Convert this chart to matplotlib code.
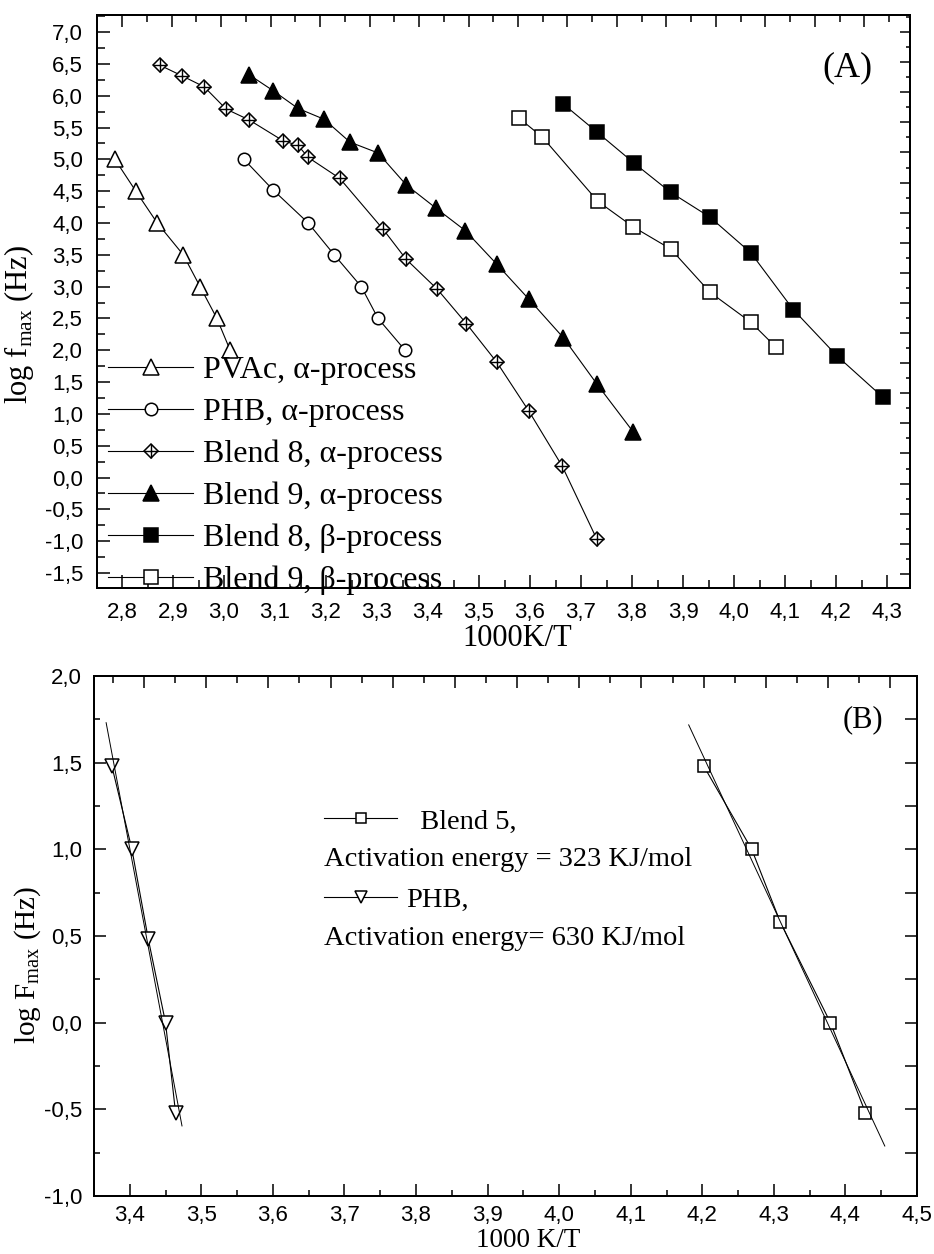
import numpy as np
import matplotlib
matplotlib.use('Agg')
import matplotlib.pyplot as plt
from matplotlib.ticker import MultipleLocator, FuncFormatter

# panel A: log f_max vs 1000/T
pvac_x = [2.786, 2.827, 2.869, 2.920, 2.953, 2.986, 3.012]
pvac_y = [5.0, 4.5, 4.0, 3.5, 3.0, 2.5, 2.0]
phb_x = [3.039, 3.096, 3.165, 3.216, 3.269, 3.302, 3.355]
phb_y = [5.0, 4.52, 4.0, 3.5, 3.0, 2.5, 2.0]
b8a_x = [2.874, 2.918, 2.961, 3.004, 3.049, 3.116, 3.145, 3.165, 3.227,
         3.312, 3.357, 3.418, 3.475, 3.535, 3.598, 3.663, 3.731]
b8a_y = [6.48, 6.31, 6.14, 5.79, 5.62, 5.29, 5.22, 5.03, 4.70,
         3.90, 3.43, 2.96, 2.42, 1.81, 1.04, 0.18, -0.97]
b9a_x = [3.049, 3.096, 3.145, 3.196, 3.247, 3.302, 3.357, 3.416, 3.473,
         3.535, 3.598, 3.665, 3.731, 3.802]
b9a_y = [6.33, 6.08, 5.80, 5.63, 5.27, 5.10, 4.60, 4.23, 3.88,
         3.35, 2.80, 2.20, 1.47, 0.72]
b8b_x = [3.665, 3.731, 3.804, 3.876, 3.953, 4.033, 4.116, 4.202, 4.292]
b8b_y = [5.87, 5.43, 4.94, 4.48, 4.09, 3.53, 2.64, 1.91, 1.26]
b9b_x = [3.578, 3.624, 3.733, 3.802, 3.876, 3.953, 4.033, 4.082]
b9b_y = [5.65, 5.35, 4.34, 3.94, 3.59, 2.91, 2.44, 2.05]
labels_a = ['PVAc, α-process', 'PHB, α-process', 'Blend 8, α-process',
            'Blend 9, α-process', 'Blend 8, β-process', 'Blend 9, β-process']

# panel B: arrhenius fits
b5_x = [4.202, 4.269, 4.309, 4.379, 4.428]
b5_y = [1.48, 1.0, 0.58, 0.0, -0.52]
phb2_x = [3.375, 3.403, 3.426, 3.450, 3.464]
phb2_y = [1.48, 1.0, 0.48, 0.0, -0.52]
b5_fit_range = [4.181, 4.455]
phb_fit_range = [3.367, 3.473]
labels_b = ['  Blend 5,', 'PHB,']
energy_text = ['Activation energy = 323 KJ/mol', 'Activation energy= 630 KJ/mol']

plt.rcParams['font.family'] = 'Liberation Sans'
plt.rcParams['mathtext.fontset'] = 'custom'
plt.rcParams['mathtext.rm'] = 'Liberation Serif'
SERIF = 'Liberation Serif'


def comma(v, pos):
    if abs(v) < 1e-9:
        v = 0.0
    return ('%.1f' % v).replace('.', ',')


def style_ticks(ax, major, minor, pad):
    ax.tick_params(which='both', direction='in', width=1.1, labelsize=16, pad=pad)
    ax.tick_params(which='major', length=major)
    ax.tick_params(which='minor', length=minor)
    for s in ax.spines.values():
        s.set_linewidth(1.4)


fig = plt.figure(figsize=(9.34, 12.54), dpi=100)

# ---- top panel ----
ax1 = fig.add_axes([0.1039, 0.5311, 0.8704, 0.4569])
kw = dict(color='black', lw=0.8, mew=1.1, mec='black')
h1, = ax1.plot(pvac_x, pvac_y, marker='^', ms=11, mfc='white', **kw)
h2, = ax1.plot(phb_x, phb_y, marker='o', ms=9, mfc='white', **kw)
h3d, = ax1.plot(b8a_x, b8a_y, marker='D', ms=7.6, mfc='white', **kw)
h3p, = ax1.plot(b8a_x, b8a_y, ls='none', marker='+', ms=10.5, mew=1.0, color='black')
h4, = ax1.plot(b9a_x, b9a_y, marker='^', ms=12, mfc='black', **kw)
h5, = ax1.plot(b8b_x, b8b_y, marker='s', ms=9.5, mfc='black', **kw)
h6, = ax1.plot(b9b_x, b9b_y, marker='s', ms=9.5, mfc='white', **kw)

ax1.set_xlim(2.751, 4.345)
ax1.set_ylim(-1.736, 7.267)
ax1.xaxis.set_major_locator(MultipleLocator(0.1))
ax1.xaxis.set_minor_locator(MultipleLocator(0.05))
ax1.yaxis.set_major_locator(MultipleLocator(0.5))
ax1.yaxis.set_minor_locator(MultipleLocator(0.25))
ax1.xaxis.set_major_formatter(FuncFormatter(comma))
ax1.yaxis.set_major_formatter(FuncFormatter(comma))
style_ticks(ax1, 9.4, 5.8, 10)

top1 = ax1.twiny()
top1.set_xlim(-0.505, 15.92)
top1.xaxis.set_major_locator(MultipleLocator(1))
top1.xaxis.set_minor_locator(MultipleLocator(0.5))
top1.tick_params(labeltop=False)
style_ticks(top1, 8.6, 5, 5)
right1 = ax1.twinx()
right1.set_ylim(-18.47, 0.565)
right1.yaxis.set_major_locator(MultipleLocator(1))
right1.yaxis.set_minor_locator(MultipleLocator(0.5))
right1.tick_params(labelright=False)
style_ticks(right1, 7.2, 3, 5)

leg = ax1.legend([h1, h2, (h3d, h3p), h4, h5, h6], labels_a, loc='upper left',
                 bbox_to_anchor=(0.0135, 0.405), frameon=False,
                 prop={'family': SERIF, 'size': 23}, handlelength=2.66,
                 handletextpad=0.3, labelspacing=0.39, borderpad=0, borderaxespad=0)
leg.set_zorder(5)

ax1.set_xlabel('1000K/T', fontfamily=SERIF, fontsize=22)
ax1.xaxis.set_label_coords(0.517, -0.063)
ax1.set_ylabel('log f$_{\\mathrm{max}}$ (Hz)', fontfamily=SERIF, fontsize=22)
ax1.yaxis.set_label_coords(-0.075, 0.459)
ax1.text(0.9225, 0.9075, '(A)', transform=ax1.transAxes, ha='center', va='center',
         fontfamily=SERIF, fontsize=26)

# ---- bottom panel ----
ax2 = fig.add_axes([0.1006, 0.0463, 0.8812, 0.4147])
g1, = ax2.plot(b5_x, b5_y, marker='s', ms=8.6, mfc='white', **kw)
g2, = ax2.plot(phb2_x, phb2_y, marker='v', ms=10, mfc='white', **kw)
for xs, ys, rng in [(b5_x, b5_y, b5_fit_range), (phb2_x, phb2_y, phb_fit_range)]:
    p = np.polyfit(xs, ys, 1)
    xr = np.array(rng)
    ax2.plot(xr, np.polyval(p, xr), color='black', lw=0.7)

ax2.set_xlim(3.35, 4.5)
ax2.set_ylim(-1, 2)
ax2.xaxis.set_major_locator(MultipleLocator(0.1))
ax2.xaxis.set_minor_locator(MultipleLocator(0.05))
ax2.yaxis.set_major_locator(MultipleLocator(0.5))
ax2.yaxis.set_minor_locator(MultipleLocator(0.25))
ax2.xaxis.set_major_formatter(FuncFormatter(comma))
ax2.yaxis.set_major_formatter(FuncFormatter(comma))
style_ticks(ax2, 8.6, 4.5, 8.5)
ax2.tick_params(axis='x', pad=6.5)

top2 = ax2.twiny()
top2.set_xlim(-0.804, 12.43)
top2.xaxis.set_major_locator(MultipleLocator(1))
top2.xaxis.set_minor_locator(MultipleLocator(0.5))
top2.tick_params(labeltop=False)
style_ticks(top2, 8.6, 5, 5)
right2 = ax2.twinx()
right2.set_ylim(-1, 2)
right2.yaxis.set_major_locator(MultipleLocator(0.25))
right2.yaxis.set_minor_locator(MultipleLocator(0.25))
right2.tick_params(labelright=False)
style_ticks(right2, 8.6, 8.6, 5)

ax2.legend([g1, g2], labels_b, loc='upper left', bbox_to_anchor=(0.2795, 0.745),
           frameon=False, prop={'family': SERIF, 'size': 20.5}, handlelength=2.57,
           handletextpad=0.32, labelspacing=1.85, borderpad=0, borderaxespad=0,
           markerscale=0.85)
for t, y in zip(energy_text, [0.647, 0.495]):
    ax2.text(0.2795, y, t, transform=ax2.transAxes, va='center', ha='left',
             fontfamily=SERIF, fontsize=20.5)

ax2.set_xlabel('1000 K/T', fontfamily=SERIF, fontsize=19.5)
ax2.xaxis.set_label_coords(0.527, -0.062)
ax2.set_ylabel('log F$_{\\mathrm{max}}$ (Hz)', fontfamily=SERIF, fontsize=21)
ax2.yaxis.set_label_coords(-0.062, 0.444)
ax2.text(0.934, 0.915, '(B)', transform=ax2.transAxes, ha='center', va='center',
         fontfamily=SERIF, fontsize=22)

fig.savefig('out.png', dpi=100)
